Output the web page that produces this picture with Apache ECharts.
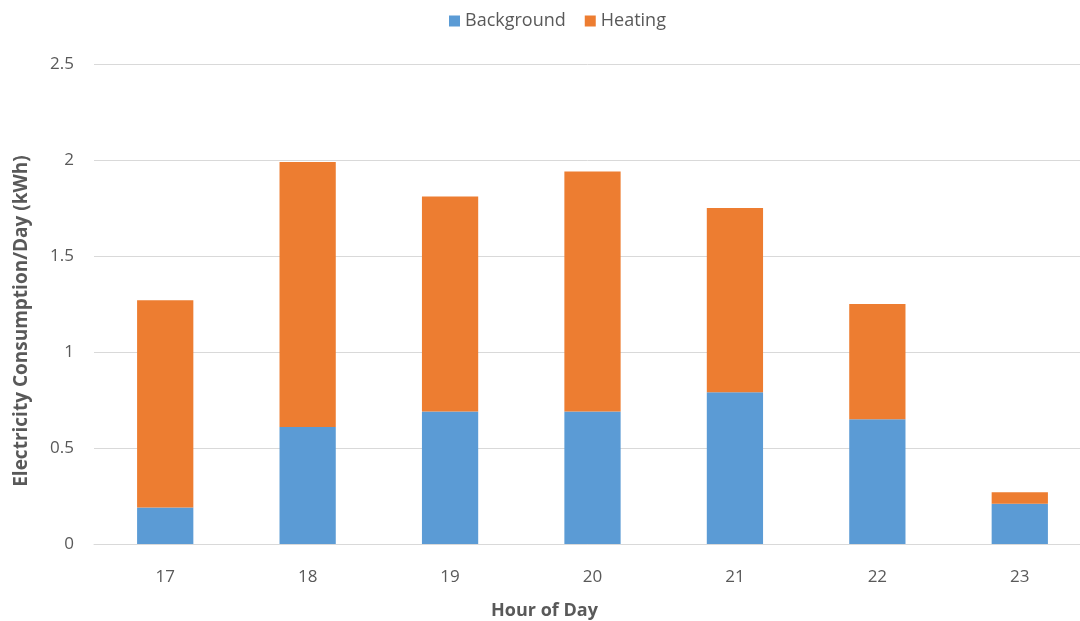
<!DOCTYPE html>
<html>
<head>
<meta charset="utf-8">
<script src="https://cdn.jsdelivr.net/npm/echarts@6/dist/echarts.min.js"></script>
<style>html,body{margin:0;padding:0;background:#fff}#c{width:1080px;height:621px}</style>
</head>
<body>
<div id="c"></div>
<script>
var categories = ['17', '18', '19', '20', '21', '22', '23'];
var background = [0.19, 0.61, 0.69, 0.69, 0.79, 0.65, 0.21];
var heating = [1.08, 1.38, 1.12, 1.25, 0.96, 0.60, 0.06];
var yTicks = { min: 0, max: 2.5, interval: 0.5 };

var FONT = 'Open Sans';
var chart = echarts.init(document.getElementById('c'));
chart.setOption({
  animation: false,
  textStyle: { fontFamily: FONT },
  legend: {
    top: 7, left: 444,
    itemWidth: 11, itemHeight: 11, itemGap: 19,
    icon: 'rect',
    textStyle: { color: '#595959', fontSize: 18, fontFamily: FONT },
    data: ['Background', 'Heating']
  },
  grid: { left: 94, width: 997, top: 64, bottom: 77, containLabel: false, outerBoundsMode: 'none' },
  xAxis: {
    type: 'category', data: categories,
    name: 'Hour of Day', nameLocation: 'middle', nameGap: 58,
    nameTextStyle: { color: '#595959', fontSize: 18, fontWeight: 'bold', fontFamily: FONT, padding: [0, 96, 0, 0] },
    axisLine: { lineStyle: { color: '#d9d9d9', width: 1 } },
    axisTick: { show: false },
    axisLabel: { color: '#595959', fontSize: 17, margin: 25, fontFamily: FONT }
  },
  yAxis: {
    type: 'value', min: yTicks.min, max: yTicks.max, interval: yTicks.interval,
    name: 'Electricity Consumption/Day (kWh)', nameLocation: 'middle', nameGap: 63,
    nameTextStyle: { color: '#595959', fontSize: 19, fontWeight: 'bold', fontFamily: FONT, padding: [0, 34, 0, 0] },
    axisLine: { show: false }, axisTick: { show: false },
    splitLine: { lineStyle: { color: '#d9d9d9', width: 1 } },
    axisLabel: { color: '#595959', fontSize: 17, margin: 20, fontFamily: FONT }
  },
  series: [
    { name: 'Background', type: 'bar', stack: 'total', data: background,
      barWidth: '39.5%', itemStyle: { color: '#5B9BD5' } },
    { name: 'Heating', type: 'bar', stack: 'total', data: heating,
      barWidth: '39.5%', itemStyle: { color: '#ED7D31' } }
  ]
});
</script>
</body>
</html>
